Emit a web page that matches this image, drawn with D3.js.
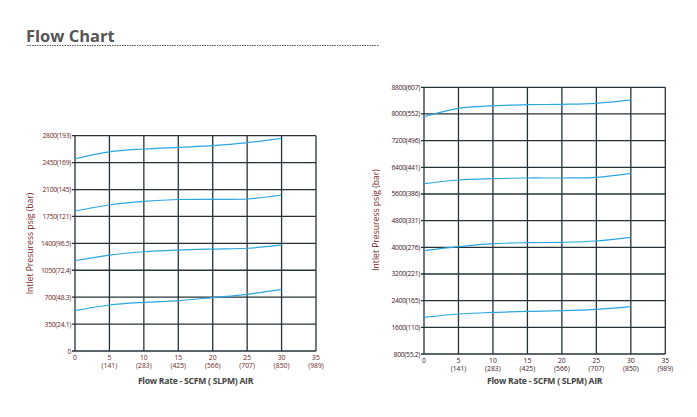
<!DOCTYPE html>
<html><head><meta charset="utf-8">
<script src="https://cdn.jsdelivr.net/npm/d3@7"></script>
<style>body{margin:0;background:#fff}svg{display:block}</style>
</head><body>
<svg id="c" width="697" height="417"></svg>
<script>
const flowX = [0, 5, 10, 15, 20, 25, 30];
const xTicks = [0, 5, 10, 15, 20, 25, 30, 35];
const xTickSub = ["", "(141)", "(283)", "(425)", "(566)", "(707)", "(850)", "(989)"];

const leftTicks = [0, 350, 700, 1050, 1400, 1750, 2100, 2450, 2800];
const leftTickLabels = ["0", "350(24.1)", "700(48.3)", "1050(72.4)", "1400(96.5)", "1750(121)", "2100(145)", "2450(169)", "2800(193)"];
const leftCurve1 = [2500, 2590, 2627, 2649, 2670, 2709, 2766];
const leftCurve2 = [1821, 1899, 1945, 1970, 1973, 1977, 2029];
const leftCurve3 = [1174, 1248, 1291, 1313, 1326, 1336, 1379];
const leftCurve4 = [524, 598, 633, 655, 695, 737, 802];

const rightTicks = [800, 1600, 2400, 3200, 4000, 4800, 5600, 6400, 7200, 8000, 8800];
const rightTickLabels = ["800(55.2)", "1600(110)", "2400(165)", "3200(221)", "4000(276)", "4800(331)", "5600(386)", "6400(441)", "7200(496)", "8000(552)", "8800(607)"];
const rightCurve1 = [7918, 8170, 8248, 8278, 8290, 8320, 8420];
const rightCurve2 = [5909, 6020, 6060, 6080, 6080, 6100, 6220];
const rightCurve3 = [3899, 4020, 4110, 4140, 4150, 4190, 4300];
const rightCurve4 = [1900, 2000, 2050, 2080, 2100, 2140, 2220];

const svg = d3.select("#c");
const FONT = "'Open Sans', 'DejaVu Sans', sans-serif";

// title
svg.append("text").attr("x", 26).attr("y", 42).text("Flow Chart")
  .attr("font-family", FONT).attr("font-weight", "bold").attr("font-size", 16.5).attr("fill", "#555");
svg.append("line").attr("x1", 27).attr("x2", 379).attr("y1", 45.5).attr("y2", 45.5)
  .attr("stroke", "#555").attr("stroke-width", 1).attr("stroke-dasharray", "1.5,1");

function chart(o) {
  const x = d3.scaleLinear().domain([0, 35]).range([o.x0, o.x1]);
  const y = d3.scaleLinear().domain(o.ydom).range([o.y0, o.y1]);
  const g = svg.append("g");
  // grid
  g.selectAll(".v").data(xTicks).join("line")
    .attr("x1", d => x(d)).attr("x2", d => x(d)).attr("y1", y(o.ydom[0])).attr("y2", y(o.ydom[1]))
    .attr("stroke", "#263238").attr("stroke-width", 1.3);
  g.selectAll(".h").data(o.ticks).join("line")
    .attr("x1", x(0) - 3).attr("x2", x(35)).attr("y1", d => y(d)).attr("y2", d => y(d))
    .attr("stroke", "#263238").attr("stroke-width", 1.3);
  // y tick labels
  g.selectAll(".yl").data(o.ticks).join("text")
    .attr("x", x(0) - 4).attr("y", d => y(d) + 2.5).attr("text-anchor", "end")
    .attr("font-family", FONT).attr("font-size", 6.8).attr("letter-spacing", -0.3)
    .attr("fill", o.tickColor).text((d, i) => o.labels[i]);
  // x tick labels
  g.selectAll(".xl").data(xTicks).join("text")
    .attr("x", d => x(d)).attr("y", y(o.ydom[0]) + 8.5).attr("text-anchor", "middle")
    .attr("font-family", FONT).attr("font-size", 6.8).attr("fill", o.tickColor).text(d => d);
  g.selectAll(".xs").data(xTicks).join("text")
    .attr("x", d => x(d)).attr("y", y(o.ydom[0]) + 17).attr("text-anchor", "middle")
    .attr("font-family", FONT).attr("font-size", 6.8).attr("fill", o.tickColor).text((d, i) => xTickSub[i]);
  // axis titles
  g.append("text").attr("x", (o.x0 + o.x1) / 2).attr("y", 384).attr("text-anchor", "middle")
    .attr("font-family", FONT).attr("font-weight", "bold").attr("font-size", 8.6).attr("fill", "#444")
    .attr("letter-spacing", -0.25).text("Flow Rate - SCFM ( SLPM) AIR");
  g.append("text").attr("transform", `translate(${o.ylx},${o.yly}) rotate(-90)`).attr("text-anchor", "middle")
    .attr("font-family", FONT).attr("font-size", 8.6).attr("fill", "#7a1c24")
    .text("Intlet Presuress psig (bar)");
  // curves
  const line = d3.line().x((d, i) => x(flowX[i])).y(d => y(d)).curve(d3.curveCatmullRom.alpha(0.5));
  g.selectAll(".c").data(o.curves).join("path")
    .attr("d", line).attr("fill", "none").attr("stroke", "#2aa6e0").attr("stroke-width", 1.2);
}

chart({x0: 75, x1: 316, y0: 351, y1: 135.7, ydom: [0, 2800], ticks: leftTicks, labels: leftTickLabels,
  tickColor: "#6b1d24", ylx: 33, yly: 243.5, curves: [leftCurve1, leftCurve2, leftCurve3, leftCurve4]});
chart({x0: 424, x1: 665.3, y0: 354, y1: 87.3, ydom: [800, 8800], ticks: rightTicks, labels: rightTickLabels,
  tickColor: "#3a2226", ylx: 379, yly: 220, curves: [rightCurve1, rightCurve2, rightCurve3, rightCurve4]});
</script>
</body></html>
